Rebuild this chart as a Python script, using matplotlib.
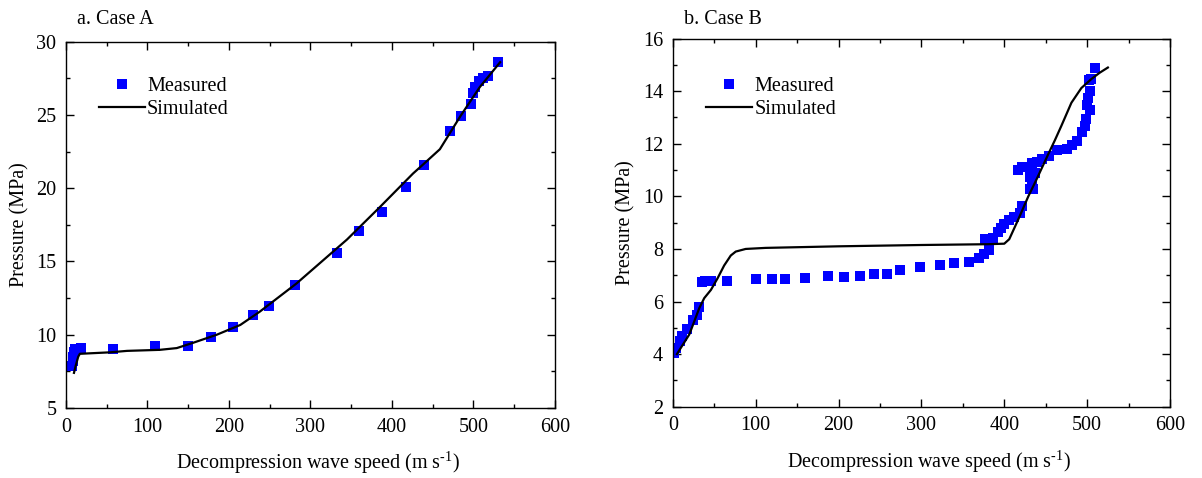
import matplotlib
matplotlib.use("Agg")
import matplotlib.pyplot as plt
from matplotlib.ticker import MultipleLocator

plt.rcParams['font.family'] = ['Liberation Serif', 'DejaVu Serif']
plt.rcParams['mathtext.fontset'] = 'custom'
plt.rcParams['mathtext.rm'] = 'Liberation Serif'
plt.rcParams['mathtext.it'] = 'Liberation Serif:italic'

# Case A: measured points
a_meas_x = [7, 8, 9, 10, 11, 14, 19, 58, 109, 150, 178, 205, 230, 249, 281, 333,
            360, 388, 417, 439, 471, 485, 497, 500, 502, 507, 512, 518, 530]
a_meas_y = [7.9, 8.2, 8.5, 8.8, 9.0, 9.05, 9.1, 9.02, 9.2, 9.24, 9.84, 10.5, 11.36,
            11.97, 13.4, 15.6, 17.1, 18.4, 20.1, 21.6, 23.9, 24.9, 25.75, 26.5, 26.9,
            27.3, 27.5, 27.65, 28.6]
# Case A: simulated curve
a_sim_x = [9.8, 12, 15, 17, 54, 75, 115, 136, 156, 185, 214, 238, 283, 345, 386,
           426, 440, 459, 484, 508, 533]
a_sim_y = [7.4, 7.9, 8.5, 8.7, 8.8, 8.9, 8.97, 9.09, 9.45, 10.0, 10.67, 11.58, 13.5,
           16.5, 18.75, 21.0, 21.7, 22.66, 24.9, 26.9, 28.6]

# Case B: measured points
b_meas_x = [1, 4, 9, 11, 17, 24, 29, 32, 35, 39, 46, 66, 101, 120, 135, 159, 187, 207,
            226, 243, 258, 274, 298, 323, 339, 357, 370, 376, 382, 377, 386, 393, 396,
            400, 406, 412, 419, 421, 431, 435, 434, 431, 437, 417, 421, 430, 433, 439,
            446, 454, 464, 476, 482, 488, 494, 497, 499, 503, 500, 501, 503, 502, 505, 509]
b_meas_y = [4.03, 4.25, 4.48, 4.69, 4.94, 5.31, 5.5, 5.78, 6.75, 6.79, 6.79, 6.79, 6.84,
            6.85, 6.85, 6.88, 6.96, 6.94, 6.98, 7.04, 7.06, 7.21, 7.3, 7.4, 7.45, 7.52,
            7.64, 7.81, 7.97, 8.37, 8.4, 8.63, 8.81, 8.94, 9.1, 9.23, 9.38, 9.65, 10.28,
            10.28, 10.5, 10.75, 10.87, 11.02, 11.12, 11.1, 11.25, 11.31, 11.44, 11.53,
            11.75, 11.79, 11.96, 12.12, 12.44, 12.69, 12.94, 13.29, 13.46, 13.75, 14.0,
            14.44, 14.47, 14.9]
# Case B: simulated curve
b_sim_x = [5, 20, 32, 38, 46, 54, 62, 70, 76, 88, 112, 200, 300, 380, 400, 406, 417,
           429, 439, 453, 461, 469, 481, 493, 505, 515, 525]
b_sim_y = [4.0, 4.75, 5.75, 6.13, 6.44, 6.88, 7.37, 7.75, 7.9, 8.0, 8.04, 8.1, 8.15,
           8.18, 8.2, 8.37, 9.13, 10.0, 10.65, 11.6, 12.13, 12.69, 13.56, 14.12, 14.46,
           14.7, 14.9]

fig = plt.figure(figsize=(12.02, 4.78), dpi=100)
ax_a = fig.add_axes([0.0549, 0.1464, 0.4066, 0.7664])
ax_b = fig.add_axes([0.5597, 0.1492, 0.4137, 0.7700])

panels = [
    (ax_a, a_meas_x, a_meas_y, a_sim_x, a_sim_y, (5, 30), 5, 2.5, 'a. Case A', 1.035, 0.905),
    (ax_b, b_meas_x, b_meas_y, b_sim_x, b_sim_y, (2, 16), 2, 1, 'b. Case B', 1.025, 0.897),
]

fs = 14.5
for ax, mx, my, sx, sy, ylim, ymaj, ymin, title, ty, ly in panels:
    ax.plot(mx, my, 's', color='#0000ff', markersize=7, markeredgewidth=0,
            label='Measured', zorder=2)
    ax.plot(sx, sy, '-', color='black', linewidth=1.6, label='Simulated', zorder=3)
    ax.set_xlim(0, 600)
    ax.set_ylim(*ylim)
    ax.xaxis.set_major_locator(MultipleLocator(100))
    ax.xaxis.set_minor_locator(MultipleLocator(50))
    ax.yaxis.set_major_locator(MultipleLocator(ymaj))
    ax.yaxis.set_minor_locator(MultipleLocator(ymin))
    ax.tick_params(which='both', direction='in', top=True, right=True,
                   labelsize=fs, width=1, pad=7)
    ax.tick_params(which='major', length=6)
    ax.tick_params(which='minor', length=3)
    for sp in ax.spines.values():
        sp.set_linewidth(1)
    ax.set_xlabel(r'Decompression wave speed (m s$^{\text{-}1}$)', fontsize=fs)
    ax.xaxis.set_label_coords(0.515, -0.115)
    ax.xaxis.label.set_va('top')
    ax.set_ylabel('Pressure (MPa)', fontsize=fs, labelpad=5)
    ax.text(0.022, ty, title, transform=ax.transAxes, fontsize=fs,
            ha='left', va='bottom')
    ax.legend(loc='upper left', bbox_to_anchor=(0.067, ly), frameon=False,
              fontsize=fs, numpoints=1, handlelength=2.3, handletextpad=0.1,
              labelspacing=0.2, borderpad=0, borderaxespad=0)

fig.savefig('out.png', dpi=100)
